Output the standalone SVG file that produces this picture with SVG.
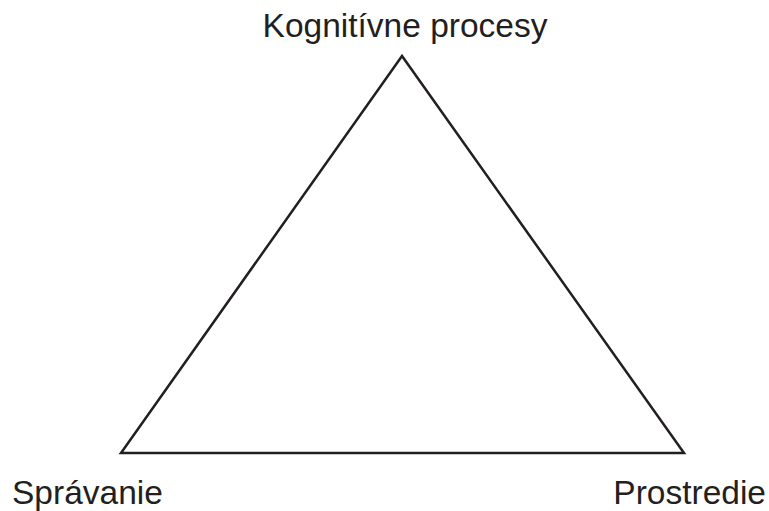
<svg xmlns="http://www.w3.org/2000/svg" width="769" height="511" viewBox="0 0 769 511">
<style>
.lbl{font-family:"Liberation Sans",Arial,sans-serif;font-size:33.5px;fill:#231f20}
.edge{fill:none;stroke:#231f20;stroke-width:2.5;stroke-linejoin:miter}
</style>
<rect width="769" height="511" fill="#fff"/>
<g id="connectors">
<polygon class="edge" points="402,56 121,453 684,453"/>
</g>
<g id="node-kognitivne"><text class="lbl" x="405" y="37" text-anchor="middle">Kognitívne procesy</text></g>
<g id="node-spravanie"><text class="lbl" x="12" y="504">Správanie</text></g>
<g id="node-prostredie"><text class="lbl" x="766" y="504" text-anchor="end">Prostredie</text></g>
</svg>
